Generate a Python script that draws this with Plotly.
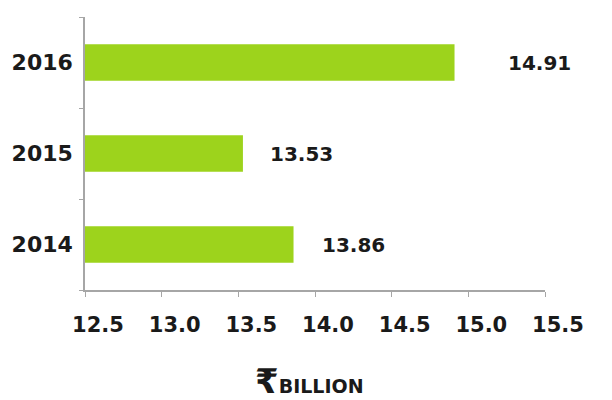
import plotly.graph_objects as go

years = ["2014", "2015", "2016"]
values = [13.86, 13.53, 14.91]
value_labels = ["13.86", "13.53", "14.91"]
x_ticks = [12.5, 13.0, 13.5, 14.0, 14.5, 15.0, 15.5]
x_tick_labels = ["12.5", "13.0", "13.5", "14.0", "14.5", "15.0", "15.5"]

bar_color = "#9DD31C"
axis_color = "#A6A6A6"
font_family = "DejaVu Sans"
label_shifts = [26, 25, 51]

fig = go.Figure()
fig.add_trace(go.Bar(
    y=years, x=values, orientation="h",
    marker=dict(color=bar_color, line=dict(width=0)),
    width=0.4, hoverinfo="skip",
))

annotations = []
for i, (v, lab, sh) in enumerate(zip(values, value_labels, label_shifts)):
    annotations.append(dict(
        x=v, y=i, xref="x", yref="y", text=lab, showarrow=False,
        xanchor="left", yanchor="middle", xshift=sh,
        font=dict(family=font_family, size=20, color="#1a1a1a", weight="bold"),
    ))
annotations.append(dict(
    xref="paper", yref="paper", x=0.487, y=-0.415,
    text="<span style='font-size:34px'>₹</span>BILLION",
    showarrow=False, xanchor="center", yanchor="bottom",
    font=dict(family=font_family, size=19, color="#1a1a1a", weight="bold"),
))

fig.update_layout(
    width=596, height=392,
    margin=dict(l=77, r=59, t=9, b=110),
    paper_bgcolor="white", plot_bgcolor="white",
    showlegend=False,
    xaxis=dict(
        range=[12.5, 15.5], tickvals=x_ticks, ticktext=x_tick_labels,
        showgrid=False, zeroline=False, automargin=False,
        showline=True, linecolor=axis_color, linewidth=1.5,
        ticks="outside", ticklen=5, tickcolor=axis_color,
        ticklabelshift=13, ticklabelstandoff=10,
        tickfont=dict(family=font_family, size=21, color="#1a1a1a", weight="bold"),
    ),
    yaxis=dict(
        type="category", categoryorder="array", categoryarray=years,
        range=[-0.5, 2.5],
        showgrid=False, zeroline=False, automargin=False,
        showline=True, linecolor=axis_color, linewidth=1.5,
        ticks="outside", ticklen=4, tickcolor=axis_color, tickson="boundaries",
        ticklabelstandoff=6,
        tickfont=dict(family=font_family, size=22, color="#1a1a1a", weight="bold"),
    ),
    annotations=annotations,
)

fig.write_html("out.html")
